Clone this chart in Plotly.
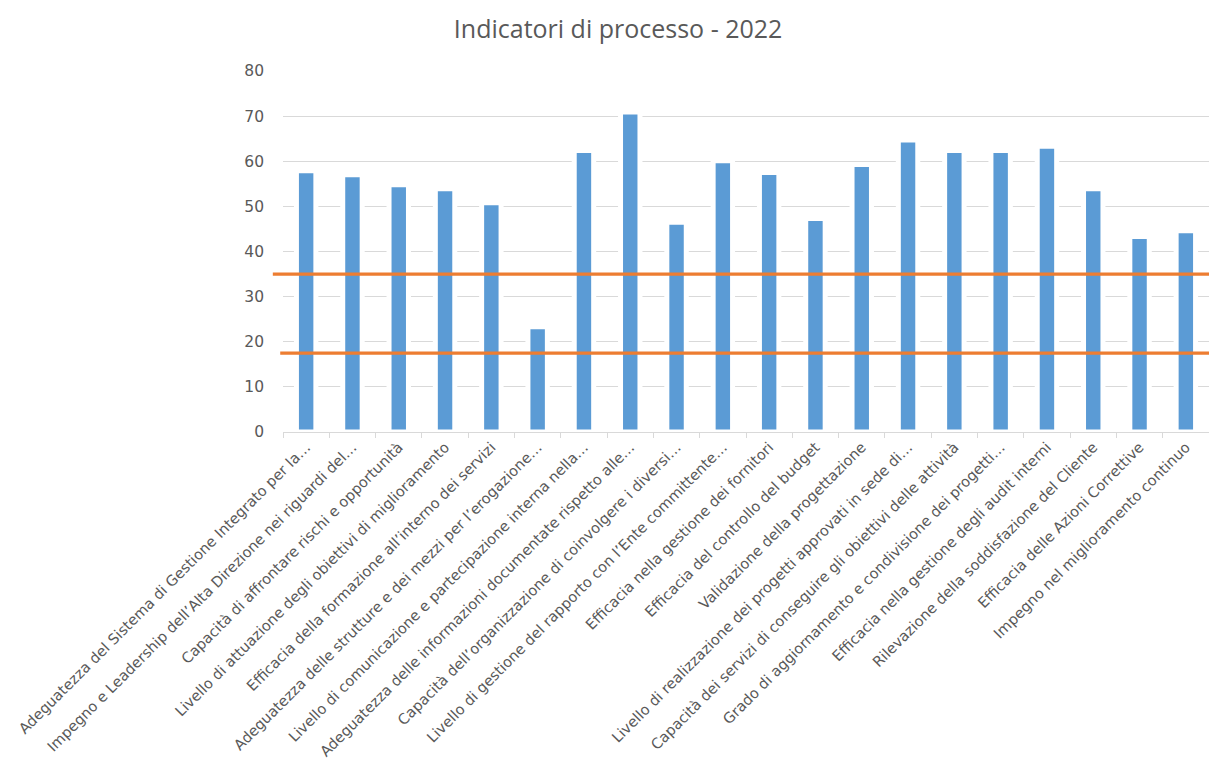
import plotly.graph_objects as go

categories = [
    "Adeguatezza del Sistema di Gestione Integrato per la…",
    "Impegno e Leadership dell’Alta Direzione nei riguardi del…",
    "Capacità di affrontare rischi e opportunità",
    "Livello di attuazione degli obiettivi di miglioramento",
    "Efficacia della formazione all’interno dei servizi",
    "Adeguatezza delle strutture e dei mezzi per l’erogazione…",
    "Livello di comunicazione e partecipazione interna nella…",
    "Adeguatezza delle informazioni documentate rispetto alle…",
    "Capacità dell’organizzazione di coinvolgere i diversi…",
    "Livello di gestione del rapporto con l’Ente committente…",
    "Efficacia nella gestione dei fornitori",
    "Efficacia del controllo del budget",
    "Validazione della progettazione",
    "Livello di realizzazione dei progetti approvati in sede di…",
    "Capacità dei servizi di conseguire gli obiettivi delle attività",
    "Grado di aggiornamento e condivisione dei progetti…",
    "Efficacia nella gestione degli audit interni",
    "Rilevazione della soddisfazione del Cliente",
    "Efficacia delle Azioni Correttive",
    "Impegno nel miglioramento continuo",
]
values = [57.9, 57.0, 54.8, 53.9, 50.8, 23.3, 62.4, 70.9, 46.5, 60.1,
          57.5, 47.3, 59.3, 64.7, 62.4, 62.4, 63.3, 53.9, 43.3, 44.6]
thresholds = [35, 17.5]
y_ticks = [0, 10, 20, 30, 40, 50, 60, 70, 80]
title_text = "Indicatori di processo - 2022"

fig = go.Figure()
fig.add_trace(go.Bar(
    x=categories, y=values,
    marker=dict(color="#5b9bd5", line=dict(color="white", width=5)),
    width=0.42,
))

line_starts = [-0.011, -0.003]
for t, x0 in zip(thresholds, line_starts):
    fig.add_shape(type="line", xref="paper", yref="y", x0=x0, x1=1.0,
                  y0=t, y1=t, line=dict(color="#ed7d31", width=3.2), layer="above")

fig.update_layout(
    width=1201, height=758,
    paper_bgcolor="white", plot_bgcolor="white",
    margin=dict(l=275, r=0, t=63, b=334),
    showlegend=False,
    font=dict(family="DejaVu Sans, Open Sans, sans-serif", color="#595959"),
    title=dict(text=title_text, x=0.508, xanchor="center", y=0.972, yanchor="middle",
               font=dict(family="Open Sans, sans-serif", size=25, color="#595959")),
    xaxis=dict(
        type="category", tickangle=-45, automargin=False,
        tickfont=dict(size=14.6, color="#595959"),
        showline=True, linecolor="#d9d9d9", linewidth=1,
        ticks="outside", tickson="boundaries", ticklen=5, tickcolor="#d9d9d9",
        showgrid=False,
    ),
    yaxis=dict(
        range=[0, 80], tickvals=y_ticks, automargin=False,
        tickfont=dict(size=15.5, color="#595959"),
        showgrid=True, gridcolor="#d9d9d9", gridwidth=1,
        zeroline=False, ticks="", ticklen=0, ticklabelstandoff=18,
    ),
)

fig.write_html("out.html")
